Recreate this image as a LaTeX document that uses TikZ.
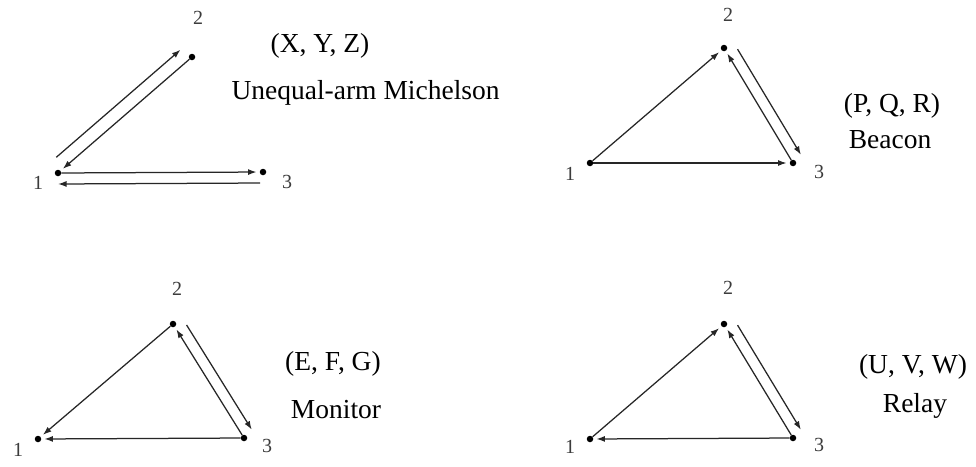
\documentclass[tikz,border=0pt]{standalone}
\usepackage{fontspec}
\setmainfont{Liberation Serif}
\usetikzlibrary{arrows.meta,calc}
\definecolor{beamGray}{HTML}{262626}
\definecolor{numGray}{HTML}{3C3C3C}

\tikzset{
  sat/.style={circle, fill=black, inner sep=0pt, minimum size=6.5pt},
  beam/.style={-{Latex[length=8.5pt,width=6pt]}, beamGray, line width=1.25pt, shorten >=3pt},
  scnum/.style={numGray, font=\fontsize{20}{24}\selectfont},
  combo/.style={font=\fontsize{27.5}{32}\selectfont, anchor=base}
}

\begin{document}
\begin{tikzpicture}[x=1pt, y=-1pt]
\useasboundingbox[fill=white] (0,0) rectangle (976,466);

% Unequal-arm Michelson
\node[sat] (m1) at (58,173) {};
\node[sat] (m2) at (192,57) {};
\node[sat] (m3) at (263,172) {};
\node[scnum] (m1n) at (38,183) {1};
\node[scnum] (m2n) at (198,18) {2};
\node[scnum] (m3n) at (287,182) {3};
\draw[beam] (m2) -- (m1);
\draw[beam, shorten >=0pt] ($(m1)!9pt!(m2)!13pt!90:(m2)$) -- ($(m2)!4pt!(m1)!13pt!-90:(m1)$);
\draw[beam] (m1) -- (m3);
\draw[beam, shorten >=0pt] ($(m3)!3pt!(m1)!11pt!90:(m1)$) -- ($(m1)!11pt!-90:(m3)$);
\node[combo] (mxyz) at (320,52) {(X, Y, Z)};
\node[combo, anchor=base west] (mname) at (228,99) {Unequal-arm Michelson};

% Beacon
\node[sat] (b1) at (590,163) {};
\node[sat] (b2) at (724,48) {};
\node[sat] (b3) at (793,163) {};
\node[scnum] (b1n) at (570,174) {1};
\node[scnum] (b2n) at (728,15) {2};
\node[scnum] (b3n) at (819,172) {3};
\draw[beam] (b1) -- (b2);
\draw[beam] (b1) -- (b3);
\draw[beam] (b3) -- (b2);
\draw[beam, shorten >=0pt] ($(b2)!8pt!(b3)!11pt!90:(b3)$) -- ($(b3)!3pt!(b2)!11pt!-90:(b2)$);
\node[combo] (bpqr) at (892,112) {(P, Q, R)};
\node[combo] (bname) at (890,148) {Beacon};

% Monitor
\node[sat] (o1) at (38,439) {};
\node[sat] (o2) at (173,324) {};
\node[sat] (o3) at (244,438) {};
\node[scnum] (o1n) at (18,450) {1};
\node[scnum] (o2n) at (177,289) {2};
\node[scnum] (o3n) at (267,446) {3};
\draw[beam] (o2) -- (o1);
\draw[beam] (o3) -- (o1);
\draw[beam] (o3) -- (o2);
\draw[beam, shorten >=0pt] ($(o2)!8pt!(o3)!11pt!90:(o3)$) -- ($(o3)!3pt!(o2)!11pt!-90:(o2)$);
\node[combo] (oefg) at (333,370) {(E, F, G)};
\node[combo] (oname) at (336,418) {Monitor};

% Relay
\node[sat] (r1) at (590,439) {};
\node[sat] (r2) at (724,324) {};
\node[sat] (r3) at (793,438) {};
\node[scnum] (r1n) at (570,447) {1};
\node[scnum] (r2n) at (728,288) {2};
\node[scnum] (r3n) at (819,445) {3};
\draw[beam] (r1) -- (r2);
\draw[beam] (r3) -- (r1);
\draw[beam] (r3) -- (r2);
\draw[beam, shorten >=0pt] ($(r2)!8pt!(r3)!11pt!90:(r3)$) -- ($(r3)!3pt!(r2)!11pt!-90:(r2)$);
\node[combo] (ruvw) at (913,373) {(U, V, W)};
\node[combo] (rname) at (915,412) {Relay};
\end{tikzpicture}
\end{document}
